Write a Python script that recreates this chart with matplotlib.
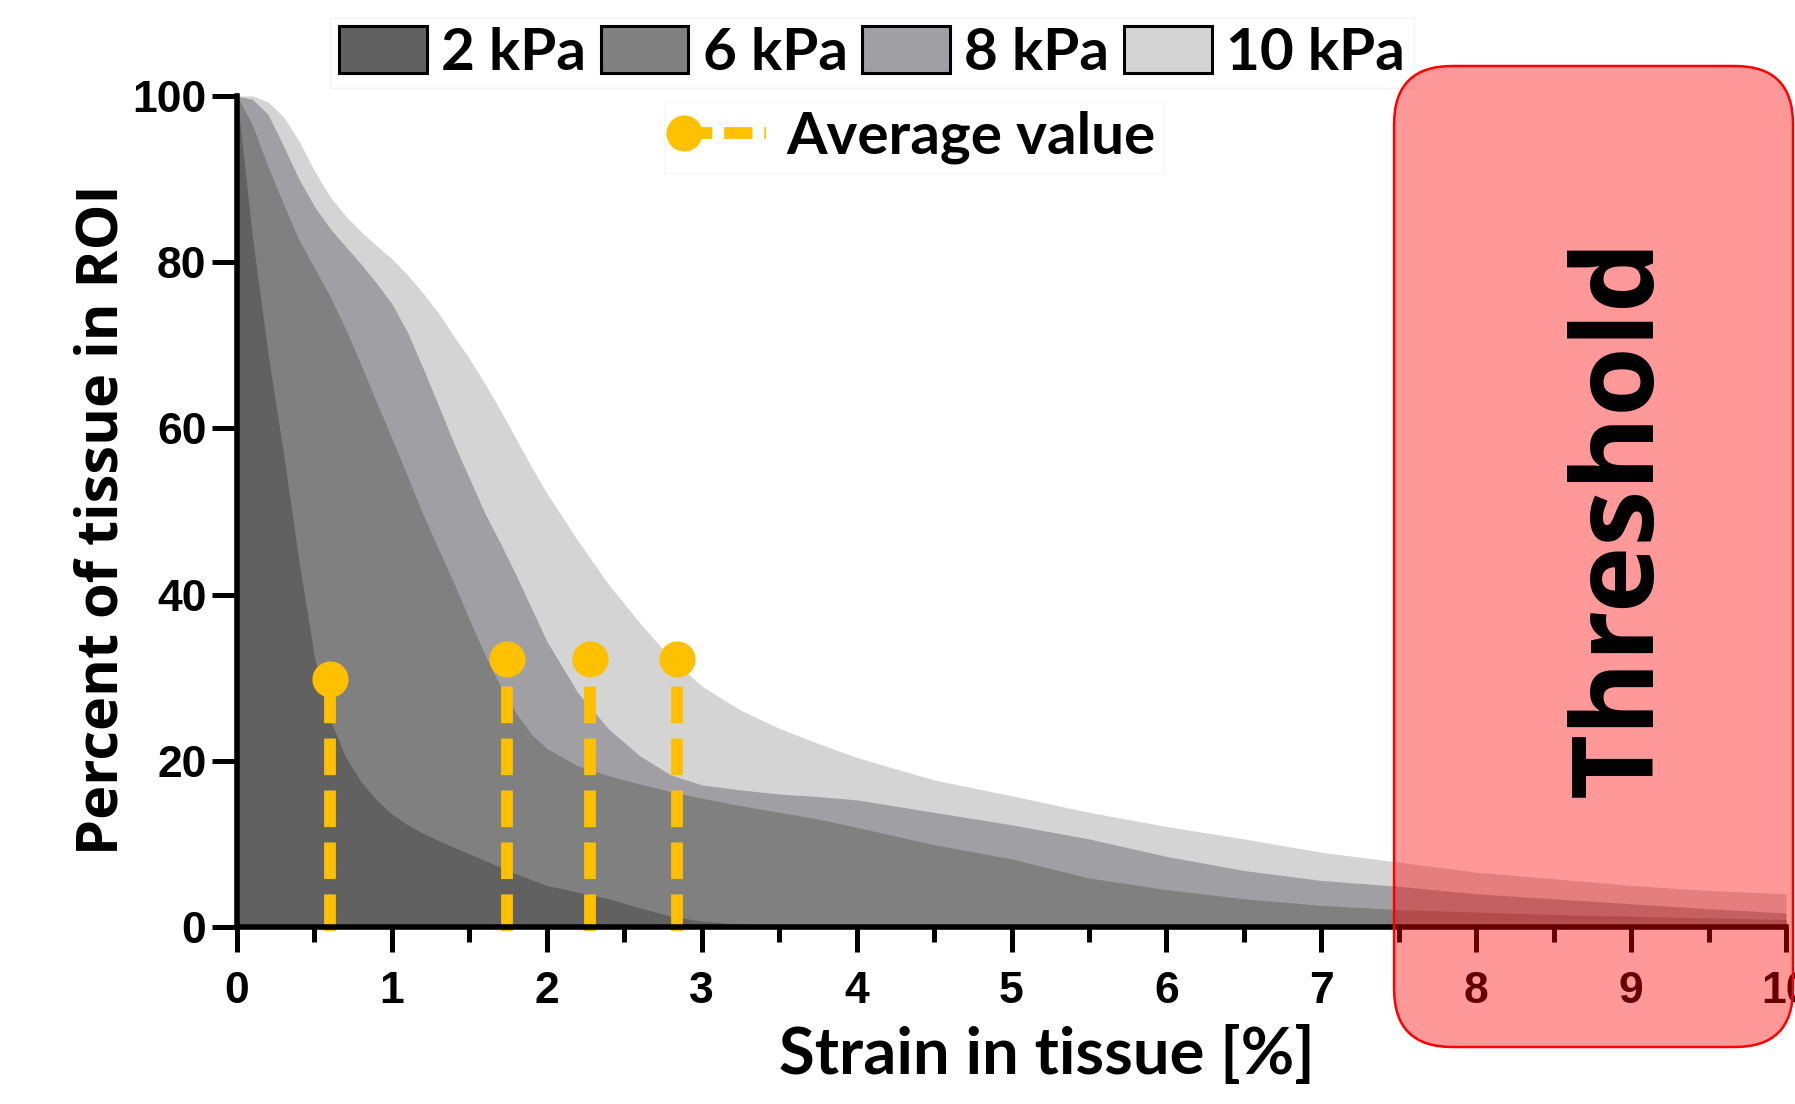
import numpy as np
import matplotlib
matplotlib.use("Agg")
import matplotlib.pyplot as plt
from matplotlib import font_manager
from matplotlib.patches import Patch, FancyBboxPatch
from matplotlib.lines import Line2D
import matplotlib.transforms as mtransforms

# ---------------- data ----------------
strain = [0, 0.1, 0.2, 0.3, 0.4, 0.5, 0.6, 0.7, 0.8, 0.9, 1.0, 1.1, 1.2, 1.3, 1.4,
          1.5, 1.6, 1.7, 1.8, 1.9, 2.0, 2.2, 2.4, 2.6, 2.8, 3.0, 3.25, 3.5, 3.75,
          4.0, 4.5, 5.0, 5.5, 6.0, 6.5, 7.0, 7.5, 8.0, 8.5, 9.0, 9.5, 10.0]

kpa2 = [100, 83, 69, 57, 44, 32.5, 25.0, 20.5, 17.5, 15.3, 13.6, 12.3, 11.3, 10.4, 9.6,
        8.8, 8.0, 7.2, 6.4, 5.7, 5.0, 4.2, 3.4, 2.3, 1.3, 0.7, 0.35, 0.15, 0.1,
        0.05, 0, 0, 0, 0, 0, 0, 0, 0, 0, 0, 0, 0]
kpa6 = [100, 96.5, 91.5, 87, 82.7, 79.3, 75.9, 72.0, 67.7, 63.2, 58.8, 54.3, 49.7, 45.5, 41.4,
        37.0, 32.8, 29.0, 25.8, 23.2, 21.5, 19.4, 18.2, 17.2, 16.3, 15.5, 14.6, 13.8, 13.0,
        12.0, 9.9, 8.2, 5.9, 4.5, 3.4, 2.6, 2.1, 1.8, 1.5, 1.3, 1.1, 0.9]
kpa8 = [100, 99.6, 97.8, 94.0, 90.0, 86.7, 84.1, 81.9, 79.8, 77.5, 75.0, 71.6, 67.3, 62.8, 58.2,
        54.0, 49.8, 46.2, 42.4, 38.4, 34.4, 28.2, 23.8, 20.6, 18.3, 17.1, 16.5, 16.0, 15.7,
        15.3, 13.8, 12.3, 10.6, 8.5, 6.8, 5.6, 4.9, 4.0, 3.4, 2.8, 2.2, 1.7]
kpa10 = [100, 100, 99.3, 97.5, 94.6, 91.0, 87.9, 85.6, 83.7, 82.0, 80.4, 78.5, 76.3, 73.9, 71.1,
         68.4, 65.4, 62.2, 58.8, 55.4, 52.2, 46.5, 41.2, 36.6, 32.4, 29.0, 26.1, 23.9, 22.1,
         20.4, 17.7, 15.8, 13.8, 12.1, 10.6, 9.0, 7.8, 6.6, 5.8, 5.0, 4.4, 4.0]

labels = ["2 kPa", "6 kPa", "8 kPa", "10 kPa"]
colors = ["#616161", "#808080", "#a0a0a4", "#d4d4d4"]

avg_x = [0.60, 1.74, 2.28, 2.84]
avg_y = [29.8, 32.3, 32.3, 32.3]

threshold = 7.47
yellow = "#ffc000"

# ---------------- fonts ----------------
names = {f.name for f in font_manager.fontManager.ttflist}
if "Liberation Sans Narrow" in names:
    tick_font, tick_size = "Liberation Sans Narrow", 38
else:
    tick_font, tick_size = "Liberation Sans", 32
label_font = ["Open Sans", "DejaVu Sans"]
leg_font = ["Lato", "DejaVu Sans"]

W, H, DPI = 1795, 1104, 100
fig = plt.figure(figsize=(W / DPI, H / DPI), dpi=DPI)
ax = fig.add_axes([237 / W, 1 - 927 / H, (1786 - 237) / W, (927 - 96) / H])

series = [kpa2, kpa6, kpa8, kpa10]
# back to front: 10 kPa first
for s, c in list(zip(series, colors))[::-1]:
    ax.fill_between(strain, 0, s, color=c, linewidth=0, zorder=1)

for x, y in zip(avg_x, avg_y):
    ax.plot([x, x], [-0.5, y], color=yellow, lw=8.5, dashes=(3.1, 1.3),
            solid_capstyle="butt", zorder=3, clip_on=False)
    ax.plot([x], [y], "o", color=yellow, ms=25, zorder=4, clip_on=False)

ax.set_xlim(0, 10)
ax.set_ylim(0, 100)
for sp in ["top", "right"]:
    ax.spines[sp].set_visible(False)
for sp in ["left", "bottom"]:
    ax.spines[sp].set_linewidth(4)
    ax.spines[sp].set_zorder(5)

ax.set_xticks(range(0, 11))
ax.set_xticks(np.arange(0.5, 10, 1), minor=True)
ax.set_yticks(range(0, 101, 20))
ax.tick_params(axis="both", which="major", length=18, width=3.6, direction="out")
ax.tick_params(axis="x", which="minor", length=11, width=3.6, direction="out")
ax.tick_params(axis="x", which="major", pad=14)
ax.tick_params(axis="y", which="major", pad=4)
for lab in ax.get_xticklabels() + ax.get_yticklabels():
    lab.set_fontfamily(tick_font)
    lab.set_fontweight("bold")
    lab.set_fontsize(tick_size)

# axis titles
fig.text(103 / W, 1 - 520 / H, "Percent of tissue in ROI", rotation=90, ha="center", va="center",
         fontsize=41.5, fontweight="bold", family=label_font)
fig.text(1047 / W, 1 - 1055 / H, "Strain in tissue [%]", ha="center", va="center",
         fontsize=47, fontweight="bold", family=leg_font)

# legends
patches = [Patch(facecolor=c, edgecolor="black", linewidth=2.2, label=l) for l, c in zip(labels, colors)]
leg1 = fig.legend(handles=patches, loc="center", bbox_to_anchor=(872 / W, 1 - 53 / H), ncol=4,
                  prop={"family": leg_font, "weight": "bold", "size": 42},
                  handlelength=1.5, handleheight=0.85, handletextpad=0.25, columnspacing=0.25,
                  frameon=True, fancybox=False, edgecolor="#f0f0f0", borderpad=0.15, borderaxespad=0)
leg1.get_frame().set_linewidth(1)


class AvgHandler:
    def legend_artist(self, legend, orig_handle, fontsize, handlebox):
        x0, y0 = handlebox.xdescent, handlebox.ydescent
        w, h = handlebox.width, handlebox.height
        yc = y0 + h / 2
        line = Line2D([x0 + 8, x0 + w], [yc, yc], color=yellow, lw=8.5, dashes=(2.4, 1.0),
                      solid_capstyle="butt")
        dot = Line2D([x0 + 8], [yc], marker="o", color=yellow, ms=25, ls="none")
        handlebox.add_artist(line)
        handlebox.add_artist(dot)
        return line


avg_handle = Line2D([], [], color=yellow, label="Average value")
leg2 = fig.legend(handles=[avg_handle], handler_map={Line2D: AvgHandler()}, loc="center",
                  bbox_to_anchor=(914 / W, 1 - 137 / H),
                  prop={"family": leg_font, "weight": "bold", "size": 42},
                  handlelength=1.6, handletextpad=0.35, frameon=True, fancybox=False,
                  edgecolor="#f4f4f4", borderpad=0.15, borderaxespad=0)
leg2.get_frame().set_linewidth(1)

# threshold region (pixel coordinates, drawn over the axes)
x_left = ax.transData.transform((threshold, 0))[0]
box = FancyBboxPatch((x_left, H - 1047), 1793 - x_left, 1047 - 66,
                     boxstyle="round,pad=0,rounding_size=58",
                     facecolor=(1, 0, 0, 0.4), edgecolor="#ff0000", linewidth=1.8,
                     transform=mtransforms.IdentityTransform(), zorder=10)
fig.add_artist(box)
fig.text(1622 / W, 1 - 517 / H, "Threshold", rotation=90, ha="center", va="center",
         fontsize=81, fontweight="bold", family=label_font, zorder=11)

fig.savefig("out.png", dpi=DPI)
